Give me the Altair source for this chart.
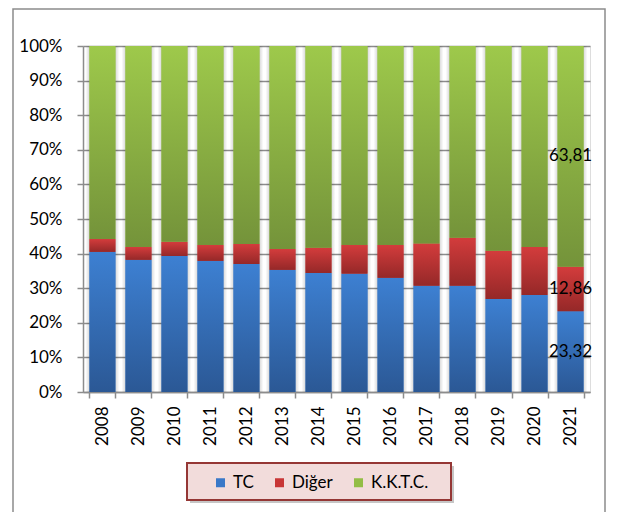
import altair as alt
import pandas as pd

years = [str(y) for y in range(2008, 2022)]
tc = [40.5, 38.2, 39.3, 37.9, 37.0, 35.3, 34.4, 34.2, 33.0, 30.7, 30.7, 26.9, 28.0, 23.32]
diger = [3.7, 3.7, 4.1, 4.6, 5.8, 6.0, 7.3, 8.3, 9.5, 12.2, 13.9, 13.9, 13.9, 12.86]
kktc = [55.8, 58.1, 56.6, 57.5, 57.2, 58.7, 58.3, 57.5, 57.5, 57.1, 55.4, 59.2, 58.1, 63.81]
series = ["TC", "Diğer", "K.K.T.C."]
labels_2021 = {"TC": "23,32", "Diğer": "12,86", "K.K.T.C.": "63,81"}

rows = []
for i, y in enumerate(years):
    for k, (s, vals) in enumerate(zip(series, [tc, diger, kktc])):
        rows.append({"year": y, "series": s, "value": vals[i], "order": k,
                     "label": labels_2021[s] if y == "2021" else ""})
df = pd.DataFrame(rows)

FONT = "Lato"
GRAY = "#8c8c8c"

def grad(top, bottom):
    return {"gradient": "linear", "x1": 0, "y1": 0, "x2": 0, "y2": 1,
            "stops": [{"offset": 0, "color": top}, {"offset": 1, "color": bottom}]}

grads = {
    "TC": grad("#3d80d2", "#2b5895"),
    "Diğer": grad("#d33c3c", "#952828"),
    "K.K.T.C.": grad("#9ec94b", "#74933a"),
}
shade = {"gradient": "linear", "x1": 0, "y1": 0, "x2": 1, "y2": 0,
         "stops": [{"offset": 0, "color": "rgba(0,0,0,0)"},
                   {"offset": 0.12, "color": "rgba(0,0,0,0.16)"},
                   {"offset": 0.88, "color": "rgba(0,0,0,0.16)"},
                   {"offset": 1, "color": "rgba(0,0,0,0)"}]}

xenc = alt.X("year:O", title=None,
             scale=alt.Scale(paddingInner=0.28, paddingOuter=0.18),
             axis=alt.Axis(labelAngle=-90, labelFontSize=17, labelFont=FONT, labelColor="black",
                           tickBand="extent", tickSize=6, tickColor=GRAY, tickWidth=1.5,
                           domainColor=GRAY, domainWidth=1.5, labelPadding=8, grid=False))
yenc = alt.Y("v0:Q", title=None,
             scale=alt.Scale(domain=[0, 1]),
             axis=alt.Axis(format=".0%", values=[i / 10 for i in range(11)], tickCount=11,
                           labelOverlap=False, labelFontSize=17,
                           labelFont=FONT, labelColor="black", tickSize=6, tickColor=GRAY,
                           tickWidth=1.5, domainColor=GRAY, domainWidth=1.5, labelPadding=15,
                           grid=True, gridColor=GRAY, gridWidth=1.5))

base = alt.Chart(df).transform_stack(
    stack="value", groupby=["year"], as_=["v0", "v1"], offset="normalize",
    sort=[alt.SortField("order", "ascending")]
)

shadow_layer = base.transform_filter(alt.datum.series == "K.K.T.C.").mark_bar(
    color=shade, width=alt.RelativeBandSize(1.3)).encode(
    x=xenc, y=alt.Y("v1:Q"), y2=alt.datum(0))

color_layer = base.mark_bar().encode(
    x=xenc, y=yenc, y2="v1:Q",
    color=alt.Color("series:N",
                    scale=alt.Scale(domain=series, range=["#3a78c8", "#c83636", "#93bd45"]),
                    legend=alt.Legend(orient="none", legendX=129, legendY=428, direction="horizontal",
                                      title=None, symbolType="square", symbolSize=81,
                                      symbolStrokeWidth=0, labelFontSize=17, labelFont=FONT,
                                      labelColor="black", labelOffset=4, columnPadding=17,
                                      padding=0)),
)

grad_layers = [
    base.transform_filter(alt.datum.series == s).mark_bar(color=grads[s]).encode(
        x=xenc, y=yenc, y2="v1:Q")
    for s in series
]

text_layer = base.transform_filter(alt.datum.label != "").transform_calculate(
    mid="(datum.v0 + datum.v1) / 2"
).mark_text(fontSize=17, font=FONT, color="black", baseline="middle", align="center").encode(
    x=xenc, y=alt.Y("mid:Q"), text="label:N")

one = pd.DataFrame({"k": [0]})
frame = alt.Chart(one).mark_rect(filled=False, stroke=GRAY, strokeWidth=1.5).encode(
    x=alt.value(-70), x2=alt.value(522), y=alt.value(-37), y2=alt.value(490))
shadow = alt.Chart(one).mark_rect(fill="#808080", opacity=0.45).encode(
    x=alt.value(107), x2=alt.value(371), y=alt.value(420), y2=alt.value(457))
box = alt.Chart(one).mark_rect(fill="#f2dcdb", stroke="#953735", strokeWidth=2).encode(
    x=alt.value(104), x2=alt.value(368), y=alt.value(417), y2=alt.value(454))

chart = alt.layer(frame, shadow, box, shadow_layer, color_layer, *grad_layers, text_layer).properties(
    width=507, height=346,
    autosize=alt.AutoSizeParams(type="none"),
    padding={"left": 75, "top": 38, "right": 20, "bottom": 120},
).configure_view(strokeWidth=0).configure(font=FONT)

chart.save("out.html", embed_options={"renderer": "svg", "actions": False})
